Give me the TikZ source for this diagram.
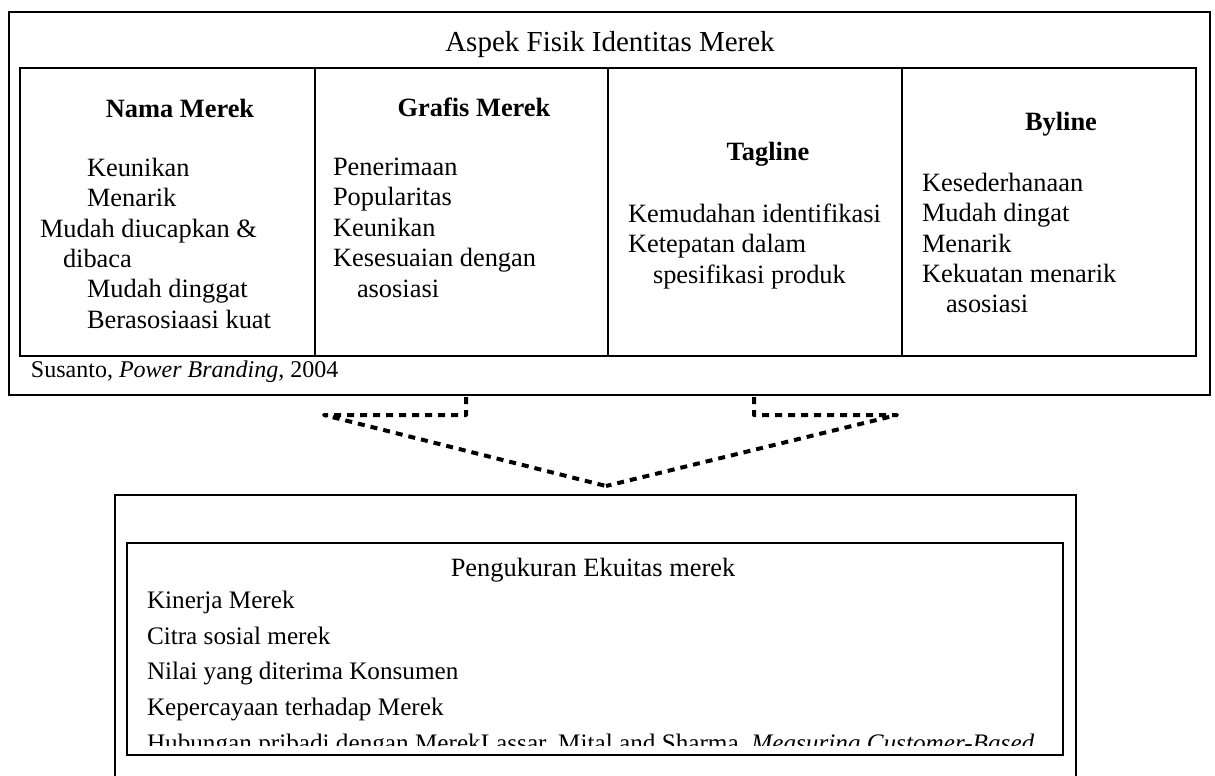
\documentclass[tikz,border=0pt]{standalone}
\usepackage{fontspec}
\setmainfont{Liberation Serif}
\usetikzlibrary{positioning, fit}

\begin{document}
\begin{tikzpicture}[x=0.5pt, y=-0.5pt,
              every node/.style = {inner sep=0pt, outer sep=0pt},
              frame/.style = {draw, line width=1pt, inner sep=0pt},
              head/.style = {anchor=base, font=\fontsize{13.2pt}{15.2pt}\selectfont\bfseries},
              items/.style = {align=left, anchor=north west,
                font=\fontsize{13.2pt}{15.2pt}\selectfont},
              funnel/.style = {draw, line width=2pt, line join=round,
                dash pattern=on 3.5pt off 3pt}]
  \useasboundingbox (0,0) rectangle (1215,776);
  % upper box: aspek fisik
  \node[frame, fit={(9,12) (1210,395)}] (aspek) {};
  \node[anchor=base, font=\fontsize{14.5pt}{17pt}\selectfont] (judul) at (610,51)
    {Aspek Fisik Identitas Merek};
  \node[frame, fit={(20,68) (1196,356)}] (tabel) {};
  \draw[line width=1pt] (315,68) -- (315,356);
  \draw[line width=1pt] (608,68) -- (608,356);
  \draw[line width=1pt] (902,68) -- (902,356);
  \node[head] (nama) at (180,117) {Nama Merek};
  \node[head] (grafis) at (474,116) {Grafis Merek};
  \node[head] (tagline) at (768,160) {Tagline};
  \node[head] (byline) at (1061,130) {Byline};
  \node[items] (namaisi) at (40,158) {\hspace*{23.5pt}Keunikan\\
    \hspace*{23.5pt}Menarik\\Mudah diucapkan \&\\\hspace*{11.5pt}dibaca\\
    \hspace*{23.5pt}Mudah dinggat\\\hspace*{23.5pt}Berasosiaasi kuat};
  \node[items] (grafisisi) at (333,158) {Penerimaan\\Popularitas\\Keunikan\\
    Kesesuaian dengan\\\hspace*{12pt}asosiasi};
  \node[items] (taglineisi) at (628,204) {Kemudahan identifikasi\\
    Ketepatan dalam\\\hspace*{12.5pt}spesifikasi produk};
  \node[items] (bylineisi) at (922,173) {Kesederhanaan\\Mudah dingat\\Menarik\\
    Kekuatan menarik\\\hspace*{12pt}asosiasi};
  \node[anchor=base west, font=\fontsize{12pt}{14pt}\selectfont] (sumber1) at (31,377)
    {Susanto, \textit{Power Branding}, 2004};
  % dashed funnel
  \coordinate (kiri1) at (466,397);
  \coordinate (kiri2) at (466,415);
  \coordinate (kiri3) at (324,415);
  \coordinate (kanan1) at (754,397);
  \coordinate (kanan2) at (754,415);
  \coordinate (kanan3) at (897,415);
  \coordinate (ujung) at (606,486);
  \draw[funnel] (kiri1) -- (kiri2) -- (kiri3) -- (ujung);
  \draw[funnel] (kanan1) -- (kanan2) -- (kanan3) -- (ujung);
  % lower box: ekuitas merek
  \draw[line width=1pt] (115,776) -- (115,495) -- (1076,495) -- (1076,776);
  \node[frame, fit={(127,543) (1063,755)}] (ekuitas) {};
  \node[anchor=base, font=\fontsize{13.2pt}{15.2pt}\selectfont] (judul2) at (593,576)
    {Pengukuran Ekuitas merek};
  \begin{scope}
    \clip (127,543) rectangle (1063,745);
    \node[items, font=\fontsize{12.6pt}{17.85pt}\selectfont] (ekuitasisi) at (147,591)
      {Kinerja Merek\\Citra sosial merek\\Nilai yang diterima Konsumen\\
       Kepercayaan terhadap Merek\\Hubungan pribadi dengan MerekLassar, Mital and Sharma, \textit{Measuring Customer-Based}};
  \end{scope}
\end{tikzpicture}
\end{document}
